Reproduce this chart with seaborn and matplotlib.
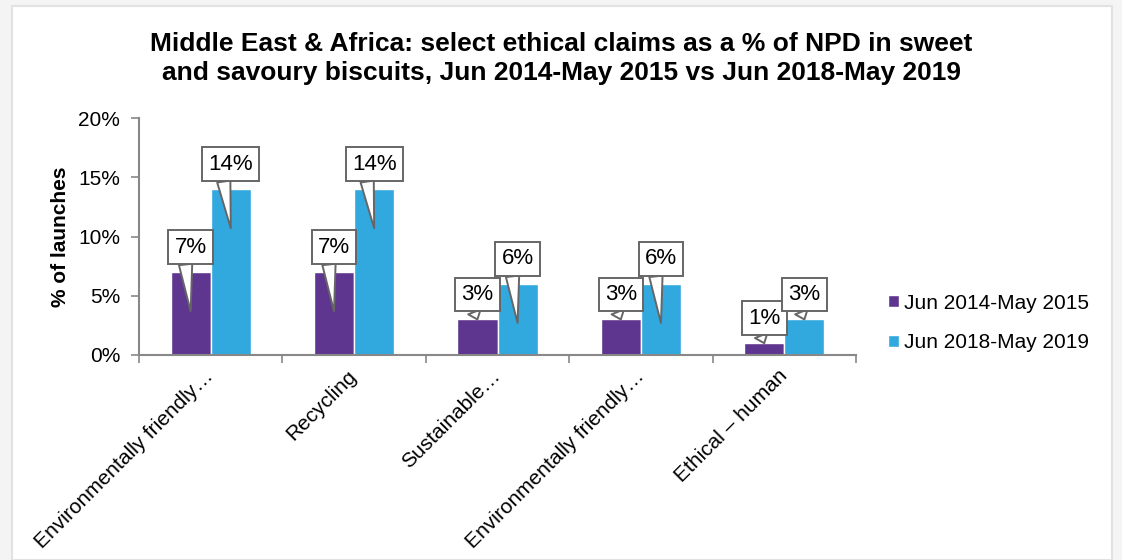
import numpy as np
import pandas as pd
import seaborn as sns
import matplotlib.pyplot as plt
from matplotlib.patches import Rectangle
from matplotlib.ticker import FixedLocator

claims = ["Environmentally friendly…", "Recycling", "Sustainable…",
          "Environmentally friendly…", "Ethical – human"]
periods = ["Jun 2014-May 2015", "Jun 2018-May 2019"]
share_2015 = [7, 7, 3, 3, 1]
share_2019 = [14, 14, 6, 6, 3]
yticks = [0, 5, 10, 15, 20]

title = ("Middle East & Africa: select ethical claims as a % of NPD in sweet\n"
         "and savoury biscuits, Jun 2014-May 2015 vs Jun 2018-May 2019")
colors = ["#5f368f", "#31a9de"]

# keep position so duplicate label names stay separate categories
df = pd.DataFrame({
    "pos": list(range(len(claims))) * 2,
    "period": [periods[0]] * len(claims) + [periods[1]] * len(claims),
    "value": share_2015 + share_2019,
})

sns.set_style("white")
plt.rcParams['font.family'] = ['Liberation Sans', 'DejaVu Sans']
plt.rcParams['text.color'] = 'black'
plt.rcParams['axes.labelcolor'] = 'black'
plt.rcParams['xtick.color'] = 'black'
plt.rcParams['ytick.color'] = 'black'

fig = plt.figure(figsize=(11.22, 5.6), dpi=100)
fig.patch.set_facecolor("#f4f4f4")
fig.patches.append(Rectangle((12 / 1122, 0), 1100 / 1122, 554 / 560,
                             transform=fig.transFigure, fc="white",
                             ec="#e2e2e2", lw=1.5, zorder=-5))
ax = fig.add_axes([139 / 1122, 205 / 560, 717 / 1122, 237 / 560])
ax.set_facecolor("none")

sns.barplot(data=df, x="pos", y="value", hue="period", palette=colors,
            width=0.56, saturation=1, ax=ax, legend=True)

ax.set_ylim(0, 20)
ax.set_xlim(-0.5, len(claims) - 0.5)
ax.set_yticks(yticks)
ax.set_yticklabels([f"{t}%" for t in yticks], fontsize=15)
ax.set_xticks(range(len(claims)))
ax.set_xticklabels(claims, rotation=45, ha="right", va="center",
                   rotation_mode="anchor", fontsize=15)
ax.xaxis.set_minor_locator(FixedLocator(np.arange(-0.5, len(claims), 1.0)))
ax.tick_params(axis="x", which="major", length=0, pad=13)
ax.tick_params(axis="x", which="minor", length=5.5, width=1.2, color="#888888",
               direction="out", bottom=True)
ax.tick_params(axis="y", length=5.5, width=1.2, color="#888888", left=True,
               direction="out", pad=8)
ax.set_xlabel("")
ax.set_ylabel("% of launches", fontsize=15, fontweight="bold", labelpad=6)
for s in ["top", "right"]:
    ax.spines[s].set_visible(False)
for s in ["left", "bottom"]:
    ax.spines[s].set_color("#888888")
    ax.spines[s].set_linewidth(1.5)

# callout labels
for cont in ax.containers:
    for bar in cont:
        v = bar.get_height()
        xc = bar.get_x() + bar.get_width() / 2
        tip = v - 3.3 if v - 3.3 > 1 else v
        off_pt = (v - tip) * 237 / 20 * 0.72 + 18
        ax.annotate(f"{v:.0f}%", xy=(xc, tip), xytext=(0, off_pt),
                    textcoords="offset points", ha="center", va="center",
                    fontsize=16,
                    bbox=dict(boxstyle="square,pad=0.28", fc="white",
                              ec="#666666", lw=1.4),
                    arrowprops=dict(arrowstyle="wedge,tail_width=0.6,shrink_factor=0.5",
                                    fc="white", ec="#666666", lw=1.4,
                                    relpos=(0.32, 0), shrinkA=0, shrinkB=0),
                    zorder=5)

handles, labels = ax.get_legend_handles_labels()
ax.legend(handles, labels, loc="center left",
          bbox_to_anchor=(880 / 1122, 237 / 560), bbox_transform=fig.transFigure,
          frameon=False, fontsize=15, handlelength=0.5, handleheight=0.5,
          handletextpad=0.25, labelspacing=1.0, borderaxespad=0)

fig.text(0.5, 1 - 32 / 560, title, ha="center", va="top", fontsize=19,
         fontweight="bold", linespacing=1.25)

fig.savefig("out.png", dpi=100, facecolor=fig.get_facecolor())
